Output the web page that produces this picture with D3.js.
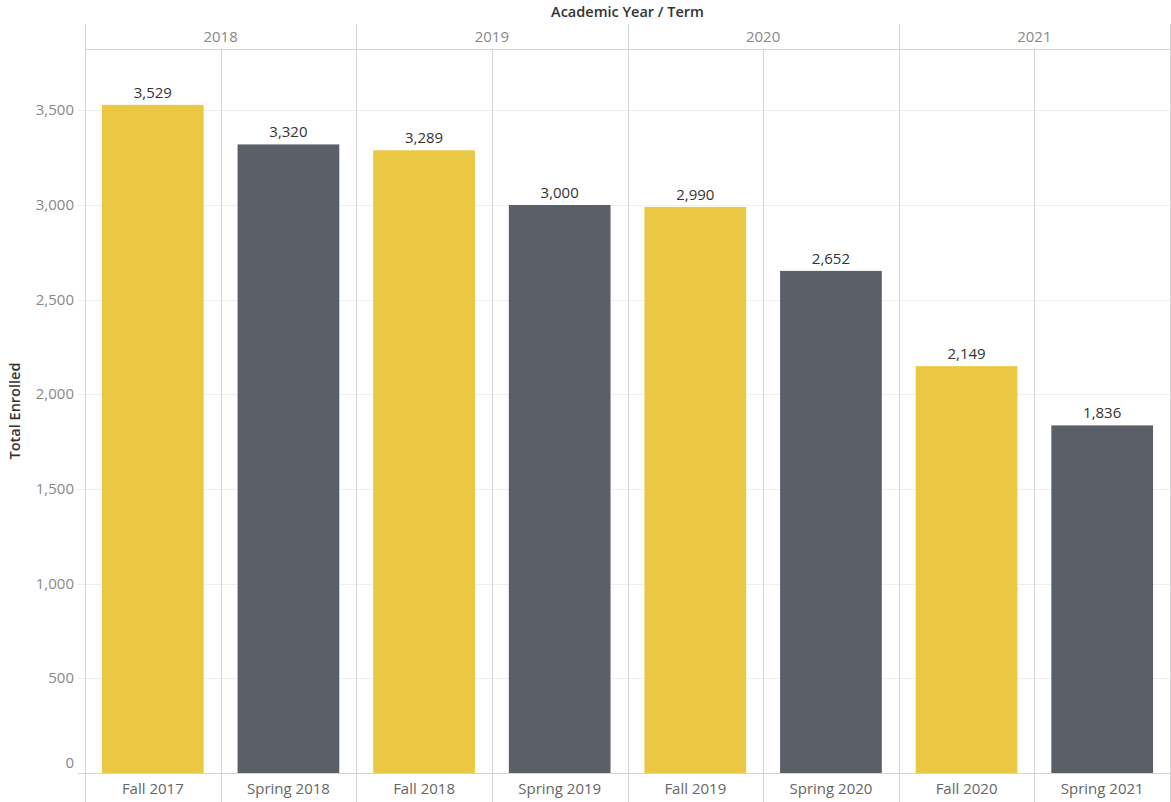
<!DOCTYPE html>
<html><head><meta charset="utf-8">
<script src="https://cdn.jsdelivr.net/npm/d3@7"></script>
<style>body{margin:0;background:#fff;} svg{display:block;font-family:"Open Sans","Noto Sans",sans-serif;}</style>
</head><body>
<script>
const years = ["2018","2019","2020","2021"];
const terms = ["Fall 2017","Spring 2018","Fall 2018","Spring 2019","Fall 2019","Spring 2020","Fall 2020","Spring 2021"];
const termYear = ["2018","2018","2019","2019","2020","2020","2021","2021"];
const termType = ["Fall","Spring","Fall","Spring","Fall","Spring","Fall","Spring"];
const enrolled = [3529,3320,3289,3000,2990,2652,2149,1836];
const yTicks = [0,500,1000,1500,2000,2500,3000,3500];
const colors = {Fall:"#EBC844", Spring:"#5B5F68"};

const W=1171,H=802, L=85, R=1170, T=49, B=773, HT=24;
const svg=d3.select("body").append("svg").attr("width",W).attr("height",H);

const x=d3.scaleBand().domain(terms).range([L,R]).paddingInner(0).paddingOuter(0);
const xYear=d3.scaleBand().domain(years).range([L,R]);
const y=d3.scaleLinear().domain([0,3824]).range([B,T]);

// gridlines
svg.append("g").selectAll("line").data(yTicks.filter(d=>d>0)).join("line")
  .attr("x1",77).attr("x2",R).attr("y1",d=>Math.round(y(d))+0.5).attr("y2",d=>Math.round(y(d))+0.5)
  .attr("stroke","#efefef").attr("stroke-width",1);

// bars
const bw = x.bandwidth()*0.75;
svg.append("g").selectAll("rect").data(terms).join("rect")
  .attr("x",(d)=>x(d)+(x.bandwidth()-bw)/2)
  .attr("width",bw)
  .attr("y",(d,i)=>y(enrolled[i]))
  .attr("height",(d,i)=>B-y(enrolled[i]))
  .attr("fill",(d,i)=>colors[termType[i]]);

// value labels
svg.append("g").selectAll("text").data(terms).join("text")
  .attr("x",d=>x(d)+x.bandwidth()/2)
  .attr("y",(d,i)=>y(enrolled[i])-7)
  .attr("text-anchor","middle").attr("font-size",15).attr("fill","#333")
  .text((d,i)=>d3.format(",")(enrolled[i]));

const lc="#d4d4d4";
// sub column lines
svg.append("g").selectAll("line").data(terms.filter((d,i)=>i%2===1)).join("line")
  .attr("x1",d=>Math.round(x(d))+0.5).attr("x2",d=>Math.round(x(d))+0.5)
  .attr("y1",T).attr("y2",H).attr("stroke",lc);
// year lines
svg.append("g").selectAll("line").data(years).join("line")
  .attr("x1",d=>Math.round(xYear(d))+0.5).attr("x2",d=>Math.round(xYear(d))+0.5)
  .attr("y1",HT).attr("y2",H).attr("stroke",lc);
svg.append("line").attr("x1",R+0.5).attr("x2",R+0.5).attr("y1",HT).attr("y2",H).attr("stroke",lc);
// header line
svg.append("line").attr("x1",L).attr("x2",R).attr("y1",T+0.5).attr("y2",T+0.5).attr("stroke",lc);
// baseline
svg.append("line").attr("x1",78).attr("x2",R).attr("y1",B+0.5).attr("y2",B+0.5).attr("stroke",lc);

// year labels
svg.append("g").selectAll("text").data(years).join("text")
  .attr("x",d=>xYear(d)+xYear.bandwidth()/2).attr("y",42)
  .attr("text-anchor","middle").attr("font-size",15).attr("fill","#888").text(d=>d);

// term labels
svg.append("g").selectAll("text").data(terms).join("text")
  .attr("x",d=>x(d)+x.bandwidth()/2).attr("y",794)
  .attr("text-anchor","middle").attr("font-size",15).attr("fill","#666").text(d=>d);

// y axis labels
svg.append("g").selectAll("text").data(yTicks).join("text")
  .attr("x",74).attr("y",d=>d===0? y(d)-5 : y(d)+5)
  .attr("text-anchor","end").attr("font-size",15).attr("fill","#888")
  .text(d=>d3.format(",")(d));

// titles
svg.append("text").attr("x",(L+R)/2).attr("y",17).attr("text-anchor","middle")
  .attr("font-size",14.5).attr("font-weight",600).attr("fill","#333").text("Academic Year / Term");
svg.append("text").attr("transform",`translate(20,${(T+B)/2}) rotate(-90)`)
  .attr("text-anchor","middle").attr("font-size",14.5).attr("font-weight",600).attr("fill","#333").text("Total Enrolled");
</script>
</body></html>
